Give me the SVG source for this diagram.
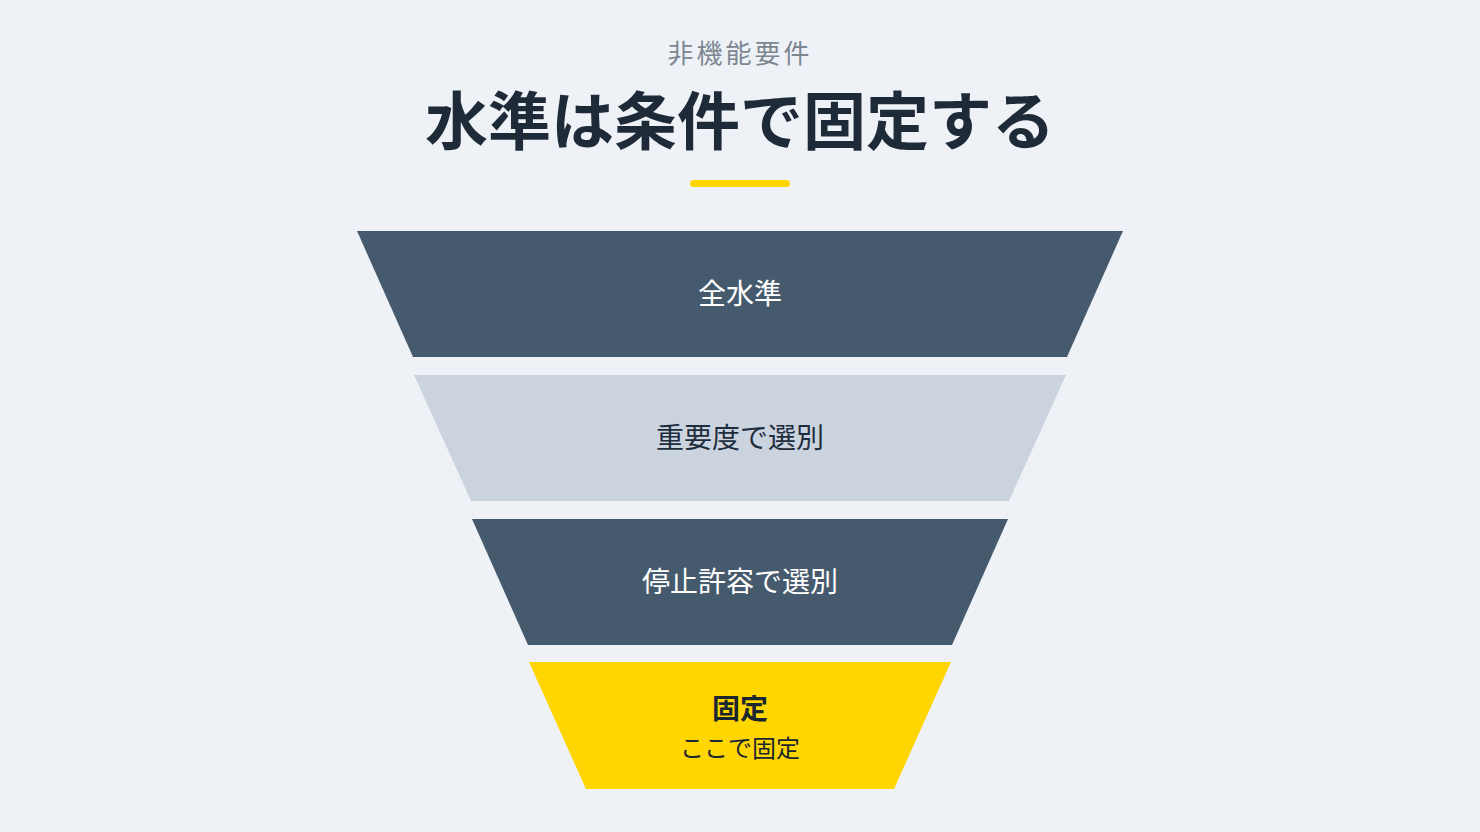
<svg xmlns="http://www.w3.org/2000/svg" width="1480" height="832" viewBox="0 0 1480 832">
<style>
.jp{font-family:"Noto Sans CJK JP","Noto Sans",sans-serif;}
.lbl{font-size:28px;text-anchor:middle;dominant-baseline:central;}
.dark{fill:#465a6e;}
.light{fill:#cbd3de;}
.yel{fill:#ffd600;}
</style>
<rect width="1480" height="832" fill="#eef2f7"/>
<g id="header">
<text class="jp" x="740" y="51" font-size="26" fill="#7d8792" text-anchor="middle" dominant-baseline="central" letter-spacing="3">非機能要件</text>
<text class="jp" x="740" y="116" font-size="63" font-weight="bold" fill="#1e2a38" text-anchor="middle" dominant-baseline="central">水準は条件で固定する</text>
<rect x="690" y="180" width="100" height="7" rx="3.5" fill="#ffd600"/>
</g>
<g id="connectors"></g>
<g id="layer1">
<polygon class="dark" points="357,231 1123,231 1067,357 413,357"/>
<text class="jp lbl" x="740" y="292" fill="#ffffff">全水準</text>
</g>
<g id="layer2">
<polygon class="light" points="414,375 1066,375 1009,501 471,501"/>
<text class="jp lbl" x="740" y="436" fill="#1e2d3d">重要度で選別</text>
</g>
<g id="layer3">
<polygon class="dark" points="472,519 1008,519 952,645 528,645"/>
<text class="jp lbl" x="740" y="580" fill="#ffffff">停止許容で選別</text>
</g>
<g id="layer4">
<polygon class="yel" points="529,662 951,662 894,789 586,789"/>
<text class="jp lbl" x="740" y="707" font-weight="bold" fill="#1a2630">固定</text>
<text class="jp" x="740" y="746" font-size="24" fill="#1a2630" text-anchor="middle" dominant-baseline="central">ここで固定</text>
</g>
</svg>
